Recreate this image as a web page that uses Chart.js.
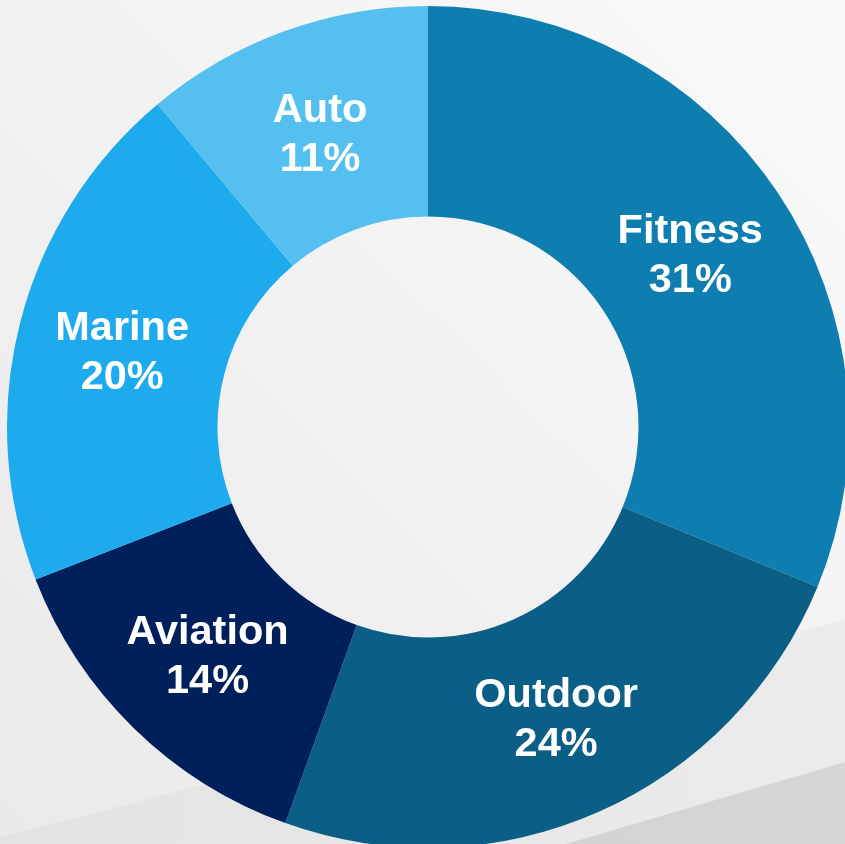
<!DOCTYPE html>
<html>
<head>
<meta charset="utf-8">
<script src="https://cdn.jsdelivr.net/npm/chart.js@4"></script>
<style>
  html, body {
    margin: 0;
    padding: 0;
  }
  body {
    width: 845px;
    height: 844px;
    overflow: hidden;
    position: relative;
    background: linear-gradient(to top right, #e9e9e9 0%, #f1f1f1 45%, #fafafa 100%);
  }
  .band {
    position: absolute;
    left: 0;
    top: 0;
    width: 845px;
    height: 844px;
  }
  #band1 {
    background: linear-gradient(to right, #e3e3e3, #ebebeb);
    clip-path: polygon(0px 837px, 845px 620px, 845px 844px, 0px 844px);
  }
  #band2 {
    background: linear-gradient(to right, #cfcfcf, #d6d6d6);
    clip-path: polygon(566px 844px, 845px 762px, 845px 844px);
  }
  #wrap {
    position: absolute;
    left: 7px;
    top: 6px;
    width: 842px;
    height: 842px;
  }
</style>
</head>
<body>
<div class="band" id="band1"></div>
<div class="band" id="band2"></div>
<div id="wrap"><canvas id="donut"></canvas></div>
<script>
  // 資料 (扇形大小量自圖上, 標籤顯示四捨五入的百分比)
  const labels = ["Fitness", "Outdoor", "Aviation", "Marine", "Auto"];
  const shares = [31.2, 24.3, 13.6, 19.8, 11.1];
  const shareText = ["31%", "24%", "14%", "20%", "11%"];
  const colors = ["#0e7db0", "#0b5e85", "#00205b", "#1dabee", "#55c0f0"];

  // 在每一塊中間寫上名稱和百分比
  const sliceLabels = {
    id: "sliceLabels",
    afterDatasetsDraw(chart) {
      const { ctx } = chart;
      const meta = chart.getDatasetMeta(0);
      ctx.save();
      ctx.fillStyle = "#ffffff";
      ctx.font = "bold 41.5px 'Liberation Sans', Arial, sans-serif";
      ctx.textAlign = "center";
      ctx.textBaseline = "middle";
      meta.data.forEach((arc, i) => {
        const { x, y } = arc.tooltipPosition();
        ctx.fillText(labels[i], x, y - 20);
        ctx.fillText(shareText[i], x, y + 29);
      });
      ctx.restore();
    },
  };

  new Chart(document.getElementById("donut"), {
    type: "doughnut",
    data: {
      labels: labels,
      datasets: [
        {
          data: shares,
          backgroundColor: colors,
          borderWidth: 0,
        },
      ],
    },
    options: {
      responsive: true,
      maintainAspectRatio: false,
      animation: false,
      cutout: "50%",
      layout: { padding: 0 },
      plugins: {
        legend: { display: false },
        tooltip: { enabled: false },
      },
    },
    plugins: [sliceLabels],
  });
</script>
</body>
</html>
